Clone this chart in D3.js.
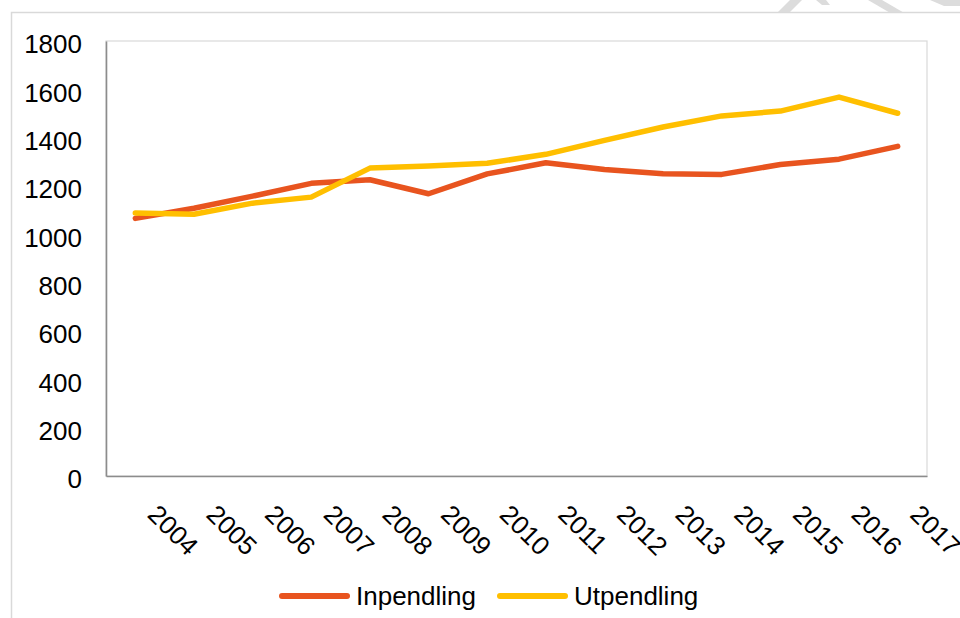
<!DOCTYPE html>
<html>
<head>
<meta charset="utf-8">
<script src="https://cdn.jsdelivr.net/npm/d3@7"></script>
<style>
  html, body { margin: 0; padding: 0; background: #fff; }
  svg { display: block; font-family: "Liberation Sans", Arial, sans-serif; }
</style>
</head>
<body>
<svg id="chart" width="960" height="618"></svg>
<script>
const years = ["2004","2005","2006","2007","2008","2009","2010","2011","2012","2013","2014","2015","2016","2017"];
const inpendling = [1066, 1108, 1158, 1211, 1226, 1168, 1250, 1296, 1268, 1251, 1248, 1289, 1311, 1364];
const utpendling = [1088, 1083, 1129, 1154, 1274, 1283, 1294, 1331, 1389, 1444, 1490, 1510, 1568, 1501];
const yTicks = [0, 200, 400, 600, 800, 1000, 1200, 1400, 1600, 1800];
const seriesNames = ["Inpendling", "Utpendling"];
const seriesColors = ["#E8541F", "#FFBF00"];

const svg = d3.select("#chart");

// watermark fragments at top-right (behind the chart area)
const wm = svg.append("g").attr("fill", "#dcdcdc");
wm.append("polygon").attr("points", "776,14 790,0 802,0 788,14");
wm.append("polygon").attr("points", "816,0 826,0 830,5 822,5");
wm.append("polygon").attr("points", "868,0 882,0 906,14 892,14");
wm.append("polygon").attr("points", "930,0 960,0 960,6 944,6");

// chart area
svg.append("rect").attr("x", 11.5).attr("y", 12.5).attr("width", 960).attr("height", 620)
  .attr("fill", "#fff").attr("stroke", "#d9d9d9").attr("stroke-width", 1.5);

const margin = { left: 106, right: 927, top: 41, bottom: 476 };

const x = d3.scaleBand().domain(years).range([margin.left, margin.right]);
const y = d3.scaleLinear().domain([0, 1800]).range([margin.bottom, margin.top]);

// plot area border
svg.append("rect").attr("x", margin.left).attr("y", margin.top)
  .attr("width", margin.right - margin.left).attr("height", margin.bottom - margin.top)
  .attr("fill", "none").attr("stroke", "#d9d9d9").attr("stroke-width", 1.2);

// y axis
const yAxis = d3.axisLeft(y).tickValues(yTicks).tickFormat(d3.format("d")).tickSize(0).tickPadding(24);
const gy = svg.append("g").attr("transform", `translate(${margin.left},0)`).call(yAxis);
gy.select(".domain").attr("stroke", "#8c8c8c").attr("stroke-width", 1.6);
gy.selectAll("text").attr("font-size", 26).attr("fill", "#000")
  .attr("font-family", "'Liberation Sans', Arial, sans-serif").attr("dy", "0.45em");

// x axis
const xAxis = d3.axisBottom(x).tickSize(0).tickFormat(d => d);
const gx = svg.append("g").attr("transform", `translate(0,${margin.bottom})`).call(xAxis);
gx.select(".domain").attr("stroke", "#8c8c8c").attr("stroke-width", 1.6);
gx.selectAll("text")
  .attr("font-size", 26).attr("fill", "#000")
  .attr("font-family", "'Liberation Sans', Arial, sans-serif")
  .attr("text-anchor", "start")
  .attr("y", 0).attr("dy", 0)
  .attr("transform", "translate(11,40) rotate(45)");

// lines
const line = d3.line()
  .x((d, i) => x(years[i]) + x.bandwidth() / 2)
  .y(d => y(d));

[inpendling, utpendling].forEach((data, k) => {
  svg.append("path").datum(data)
    .attr("d", line)
    .attr("fill", "none")
    .attr("stroke", seriesColors[k])
    .attr("stroke-width", 5.5)
    .attr("stroke-linejoin", "round")
    .attr("stroke-linecap", "round");
});

// legend
const legendX = [282, 500];
seriesNames.forEach((name, k) => {
  const g = svg.append("g").attr("transform", `translate(${legendX[k]},596)`);
  g.append("line").attr("x1", 0).attr("x2", 65).attr("y1", 0).attr("y2", 0)
    .attr("stroke", seriesColors[k]).attr("stroke-width", 6).attr("stroke-linecap", "round");
  g.append("text").attr("x", 74).attr("y", 0).attr("dy", "0.36em")
    .attr("font-size", 26).attr("fill", "#000").text(name);
});
</script>
</body>
</html>
